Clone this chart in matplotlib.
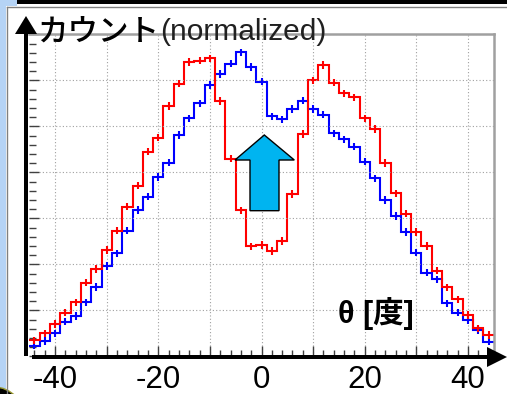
import matplotlib
matplotlib.use("Agg")
import matplotlib.pyplot as plt
import numpy as np
from matplotlib.patches import Polygon, Rectangle, Ellipse
from matplotlib.ticker import MultipleLocator, FuncFormatter

plt.rcParams['font.family'] = ['Liberation Sans', 'Noto Sans CJK JP', 'DejaVu Sans']

W, H = 507, 394  # figure size in pixels

# 2 degree bins from -45 to 45
edges = np.arange(-45, 46, 2)
centers = np.arange(-44, 45, 2)

red_counts = [0.35, 0.50, 0.70, 0.95, 1.17, 1.60, 1.90, 2.31, 2.73, 3.25, 3.71, 4.45,
              4.75, 5.44, 5.93, 6.40, 6.43, 6.48, 5.55, 4.30, 3.17, 2.39, 2.42,
              2.29, 2.51, 3.53, 4.83, 6.00, 6.33, 5.95, 5.72, 5.63, 5.17, 4.94,
              4.20, 3.54, 3.10, 2.70, 2.40, 1.86, 1.50, 1.24, 0.90, 0.61, 0.46]
blue_counts = [0.23, 0.33, 0.50, 0.75, 0.88, 1.17, 1.51, 1.96, 2.24, 2.73, 3.18, 3.47,
               3.90, 4.21, 4.81, 5.17, 5.50, 5.90, 6.14, 6.36, 6.61, 6.29, 5.97,
               5.22, 5.15, 5.38, 5.56, 5.38, 5.25, 4.85, 4.72, 4.56, 4.23, 3.87,
               3.40, 3.05, 2.70, 2.25, 1.82, 1.67, 1.15, 0.95, 0.79, 0.57, 0.32]
err = 0.08

tick_values = [-40, -20, 0, 20, 40]


def px2pt(p):
    return p * 72 / 100


fig = plt.figure(figsize=(W / 100, H / 100), dpi=100)
fig.patch.set_facecolor('white')

ax = fig.add_axes([29.3 / W, 1 - 356.3 / H, 464.4 / W, 322 / H])
for counts, col in [(blue_counts, '#0000ff'), (red_counts, '#ff0000')]:
    ax.stairs(counts, edges, color=col, lw=1.5, baseline=None)
    ax.errorbar(centers, counts, yerr=err, fmt='none', ecolor=col, elinewidth=1.5)

ax.set_xlim(-45, 45)
ax.set_ylim(0, 7)
ax.xaxis.set_major_locator(MultipleLocator(10))
ax.xaxis.set_minor_locator(MultipleLocator(2))
ax.yaxis.set_major_locator(MultipleLocator(1))
ax.yaxis.set_minor_locator(MultipleLocator(0.2))
ax.xaxis.set_major_formatter(FuncFormatter(
    lambda v, p: f"{int(v)}" if int(round(v)) in tick_values else ""))
ax.set_yticklabels([])
ax.tick_params(axis='x', which='major', direction='in', length=px2pt(10), width=1,
               color='#404040', labelsize=22.5, pad=6)
ax.tick_params(axis='x', which='minor', direction='in', length=px2pt(6), width=1,
               color='#404040')
ax.tick_params(axis='y', which='major', direction='in', length=px2pt(10), width=1,
               color='#404040')
ax.tick_params(axis='y', which='minor', direction='in', length=px2pt(7), width=1,
               color='#404040')
ax.grid(True, which='major', color='#a0a0a0', lw=0.8, linestyle=(0, (1, 2)))
for s in ['left', 'bottom']:
    ax.spines[s].set_visible(False)
for s in ['top', 'right']:
    ax.spines[s].set_color('#a0a0a0')
    ax.spines[s].set_linewidth(px2pt(2.5))

# overlay in pixel coordinates for the slide decorations
ov = fig.add_axes([0, 0, 1, 1])
ov.set_xlim(0, W)
ov.set_ylim(H, 0)
ov.axis('off')

ov.add_patch(Rectangle((0, 0), 6, H, fc='#b5d3f5', ec='none'))
ov.add_patch(Rectangle((0, 0), 17, 6, fc='#b5d3f5', ec='none'))
ov.plot([6.5, 6.5], [6.5, H], color='#808080', lw=1)
ov.plot([6.5, W], [6.5, 6.5], color='#808080', lw=1)
ov.add_patch(Rectangle((17, 0), W - 17, 4, fc='black', ec='none'))
ov.add_patch(Ellipse((-6, 420), 62, 66, fc='black', ec='#9a9a30', lw=1))

# axis arrows
ov.plot([26, 26], [32, 356], color='black', lw=px2pt(4), solid_capstyle='butt')
ov.add_patch(Polygon([(15, 34), (37, 34), (26, 16)], closed=True, fc='black', ec='none'))
ov.plot([32, 489], [357, 357], color='black', lw=px2pt(4), solid_capstyle='butt')
ov.add_patch(Polygon([(487, 347), (487, 367), (507, 357)], closed=True, fc='black', ec='none'))

# up arrow marking the dip
ov.add_patch(Polygon([(264.3, 135), (294.3, 160), (279, 160), (279, 210.7),
                      (250, 210.7), (250, 160), (235, 160)], closed=True,
                     fc='#00b4f0', ec='black', lw=1))

ov.text(37, 41, 'カウント', fontsize=22, family=['Noto Sans CJK JP'], fontweight='medium',
        va='baseline', ha='left')
ov.text(160, 40, '(normalized)', fontsize=21.5, va='baseline', ha='left', color='#202020')
ov.text(376, 314, 'θ [度]', fontsize=22, fontweight='bold', va='center', ha='center',
        family=['Liberation Sans', 'Noto Sans CJK JP'])

fig.savefig('out.png', dpi=100)
